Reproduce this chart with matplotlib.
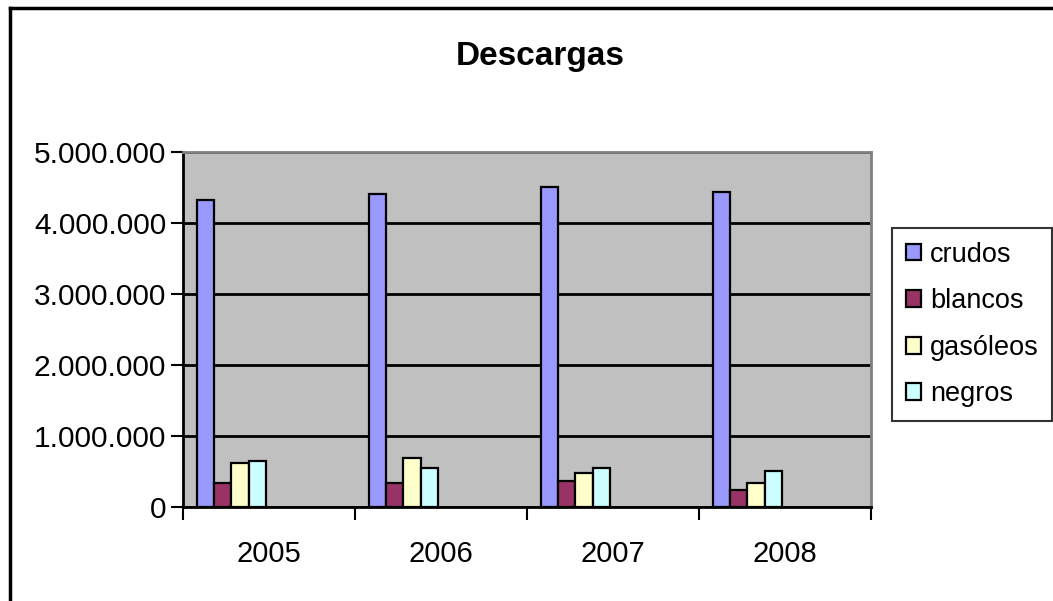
import matplotlib
matplotlib.use("Agg")
import matplotlib.pyplot as plt
from matplotlib.ticker import FuncFormatter, FixedLocator
from matplotlib.lines import Line2D
import numpy as np

plt.rcParams['font.family'] = ['Liberation Sans', 'DejaVu Sans']

years = ["2005", "2006", "2007", "2008"]
series_names = ["crudos", "blancos", "gasóleos", "negros"]
crudos = [4330000, 4410000, 4510000, 4440000]
blancos = [340000, 340000, 370000, 240000]
gasoleos = [620000, 690000, 480000, 340000]
negros = [650000, 550000, 550000, 510000]
colors = ["#9999FF", "#993366", "#FFFFCC", "#CCFFFF"]

data = [crudos, blancos, gasoleos, negros]

fig = plt.figure(figsize=(10.53, 6.01), dpi=100)
fig.patch.set_facecolor("white")

# outer chart frame (left and top visible)
fig.add_artist(Line2D([10/1053, 10/1053], [0, 1 - 8/601], transform=fig.transFigure,
                      color="black", lw=2.5))
fig.add_artist(Line2D([10/1053, 1], [1 - 8/601, 1 - 8/601], transform=fig.transFigure,
                      color="black", lw=2.5))

ax = fig.add_axes([183/1053, 1 - 507/601, (871 - 183)/1053, (507 - 152)/601])
ax.set_facecolor("#C0C0C0")

x = np.arange(len(years))
w = 0.1
for j, (vals, c, name) in enumerate(zip(data, colors, series_names)):
    ax.bar(x - 0.5 + 0.081 + w/2 + j*w, vals, width=w, color=c, edgecolor="black",
           linewidth=1.6, label=name, zorder=3)

ax.set_xlim(-0.5, len(years) - 0.5)
ax.set_ylim(0, 5000000)
ax.set_yticks(np.arange(0, 5000001, 1000000))
ax.yaxis.set_major_formatter(FuncFormatter(lambda v, p: f"{int(v):,}".replace(",", ".")))
ax.grid(axis="y", color="black", linewidth=2, zorder=1)
ax.set_axisbelow(True)

ax.xaxis.set_major_locator(FixedLocator(np.arange(-0.5, len(years), 1.0)))
ax.xaxis.set_minor_locator(FixedLocator(x))
ax.set_xticklabels([])
ax.set_xticklabels(years, minor=True)
ax.tick_params(axis="x", which="major", length=9, width=1.5, direction="out")
ax.tick_params(axis="x", which="minor", length=0, labelsize=21, pad=24)
ax.tick_params(axis="y", length=9, width=1.5, direction="out", labelsize=21.5, pad=3)

for s in ["left", "bottom"]:
    ax.spines[s].set_color("black")
    ax.spines[s].set_linewidth(2)
for s in ["top", "right"]:
    ax.spines[s].set_color("#808080")
    ax.spines[s].set_linewidth(2)

fig.text(540/1053, 1 - 57/601, "Descargas", ha="center", va="center",
         fontsize=24, fontweight="bold")

leg = fig.legend(loc="upper left", bbox_to_anchor=(892/1053, 1 - 228/601),
                 fontsize=19.5, frameon=True, fancybox=False, edgecolor="black",
                 handlelength=0.58, handleheight=0.58, handletextpad=0.33,
                 labelspacing=0.76, borderpad=0.5, borderaxespad=0)
leg.get_frame().set_linewidth(1.5)
leg.get_frame().set_facecolor("white")

fig.savefig("out.png", dpi=100)
